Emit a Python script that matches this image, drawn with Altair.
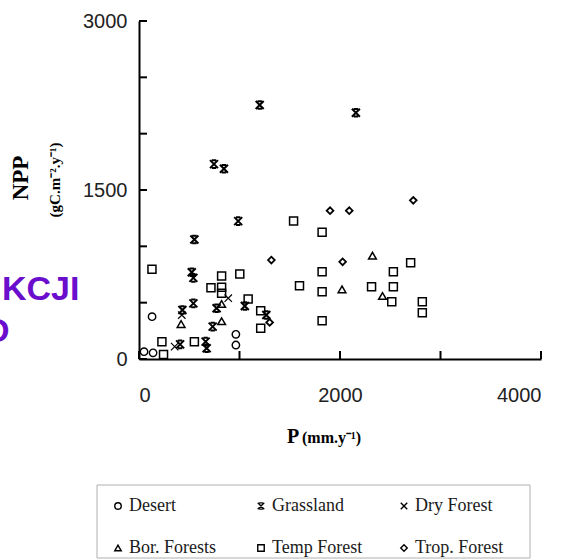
import altair as alt
import pandas as pd

# ---- data (P in mm/y, NPP in gC/m2/y) ----
desert_p = [130, 50, 140, 964, 964]
desert_npp = [376, 65, 55, 219, 124]

grass_p = [1201, 2158, 746, 845, 987, 551, 525, 541, 541, 432, 733, 772, 1053, 1267, 409, 663, 673]
grass_npp = [2254, 2186, 1730, 1689, 1224, 1060, 770, 720, 494, 435, 287, 450, 470, 390, 130, 154, 95]

dry_p = [888, 355, 426]
dry_npp = [540, 110, 390]

bor_p = [2323, 2020, 2423, 419, 822, 822]
bor_npp = [917, 618, 559, 310, 335, 488]

temp_p = [129, 228, 244, 551, 716, 822, 822, 822, 1003, 1086, 1211, 1211, 1538, 1597,
          1822, 1822, 1822, 1822, 2314, 2531, 2531, 2515, 2703, 2819, 2819]
temp_npp = [796, 154, 41, 154, 633, 736, 636, 583, 754, 532, 429, 272, 1224, 651,
            1124, 775, 597, 340, 642, 775, 642, 509, 855, 509, 411]

trop_p = [1901, 2092, 2729, 1317, 2026, 1300]
trop_npp = [1316, 1316, 1408, 878, 863, 325]

types = ["Desert", "Grassland", "Dry Forest", "Bor. Forests", "Temp Forest", "Trop. Forest"]
y_ticks = [0, 500, 1000, 1500, 2000, 2500, 3000]
x_ticks = [0, 1000, 2000, 3000, 4000]

rows = []
for name, xs, ys in [
    ("Desert", desert_p, desert_npp),
    ("Grassland", grass_p, grass_npp),
    ("Dry Forest", dry_p, dry_npp),
    ("Bor. Forests", bor_p, bor_npp),
    ("Temp Forest", temp_p, temp_npp),
    ("Trop. Forest", trop_p, trop_npp),
]:
    rows += [{"P": x, "NPP": y, "type": name} for x, y in zip(xs, ys)]
df = pd.DataFrame(rows)

GRASS = "M-1,-1L1,1M1,-1L-1,1M-0.55,-0.95L0.55,-0.95M-0.55,0.95L0.55,0.95"
DRY = "M-1,-1L1,1M1,-1L-1,1"
shapes = ["circle", GRASS, DRY, "triangle-up", "square", "diamond"]
sizes = [55, 64, 55, 60, 64, 45]
widths = [1.4, 2.0, 1.2, 1.5, 1.5, 1.8]

W, H = 402, 338
x_scale = alt.Scale(domain=[0, 4000], nice=False)
y_scale = alt.Scale(domain=[0, 3000], nice=False)
shape_scale = alt.Scale(domain=types, range=shapes)
x_axis = alt.Axis(values=[0, 2000, 4000], title=None, labelPadding=26, ticks=False,
                  tickSize=0, format="d", labelFontSize=20, labelFont="Liberation Sans",
                  labelColor="#222")
y_axis = alt.Axis(values=[0, 1500, 3000], title=None, labelPadding=12, ticks=False,
                  tickSize=0, format="d", labelFontSize=20, labelFont="Liberation Sans",
                  labelColor="#222")

point_layers = []
for i, name in enumerate(types):
    point_layers.append(
        alt.Chart(df).transform_filter(alt.datum.type == name)
        .mark_point(filled=False, color="black", opacity=1, size=sizes[i],
                    strokeWidth=widths[i])
        .encode(
            x=alt.X("P:Q", scale=x_scale, axis=x_axis),
            y=alt.Y("NPP:Q", scale=y_scale, axis=y_axis),
            shape=alt.Shape("type:N", scale=shape_scale, legend=None),
        )
    )

yt = alt.Chart(pd.DataFrame({"NPP": y_ticks})).mark_rule(color="black", strokeWidth=2).encode(
    y=alt.Y("NPP:Q", scale=y_scale, axis=y_axis),
    x=alt.value(0), x2=alt.value(8),
)
xt = alt.Chart(pd.DataFrame({"P": x_ticks})).mark_rule(color="black", strokeWidth=2).encode(
    x=alt.X("P:Q", scale=x_scale, axis=x_axis),
    y=alt.value(H), y2=alt.value(H - 8),
)

# ---- legend drawn as a 3x2 grid below the plot ----
leg = pd.DataFrame({
    "type": types,
    "col": [i % 3 for i in range(6)],
    "row": [i // 3 for i in range(6)],
})
LX0, LDX, LY0, LDY = -21, 143, 485, 42
leg_box = alt.Chart(pd.DataFrame({"a": [0]})).mark_rect(
    fill=None, stroke="#b0b0b0", strokeWidth=1
).encode(x=alt.value(-42), x2=alt.value(391), y=alt.value(464), y2=alt.value(537))
leg_sym = alt.Chart(leg).transform_calculate(
    lx=f"{LX0} + datum.col * {LDX}", ly=f"{LY0} + datum.row * {LDY}"
).mark_point(filled=False, color="black", size=42, strokeWidth=1.4, opacity=1).encode(
    x=alt.X("lx:Q", scale=None, axis=None),
    y=alt.Y("ly:Q", scale=None, axis=None),
    shape=alt.Shape("type:N", scale=shape_scale, legend=None),
)
leg_txt = alt.Chart(leg).transform_calculate(
    lx=f"{LX0 + 11} + datum.col * {LDX}", ly=f"{LY0} + datum.row * {LDY}"
).mark_text(align="left", baseline="middle", font="Liberation Serif", fontSize=18,
            color="#1a1a1a").encode(
    x=alt.X("lx:Q", scale=None, axis=None),
    y=alt.Y("ly:Q", scale=None, axis=None),
    text="type:N",
)

def label(text, x, y, **kw):
    return alt.Chart(pd.DataFrame({"t": [text]})).mark_text(**kw).encode(
        text="t:N", x=alt.value(x), y=alt.value(y))

texts = [
    label("KCJI", -137, 279, align="left", baseline="alphabetic", font="Liberation Sans",
          fontSize=34, fontWeight="bold", color="#6a0dcc"),
    label("D", -154, 321, align="left", baseline="alphabetic", font="Liberation Sans",
          fontSize=34, fontWeight="bold", color="#6a0dcc"),
    label("NPP", -118, 157, angle=270, align="center", baseline="middle",
          font="Liberation Serif", fontSize=23, fontWeight="bold", color="black"),
    label("(gC.m⁻².y⁻¹)", -84, 159, angle=270, align="center", baseline="middle",
          font="Liberation Serif", fontSize=15, fontWeight="bold", color="black"),
    label("P", 148, 422, align="left", baseline="alphabetic",
          font="Liberation Serif", fontSize=20, fontWeight="bold", color="black"),
    label("(mm.y⁻¹)", 163, 422, align="left", baseline="alphabetic",
          font="Liberation Serif", fontSize=16, fontWeight="bold", color="black"),
]

chart = alt.layer(*point_layers, yt, xt, leg_box, leg_sym, leg_txt, *texts).properties(
    width=W, height=H,
    autosize=alt.AutoSizeParams(type="none"),
    padding={"left": 139, "top": 21, "right": 27, "bottom": 201},
).configure_view(stroke=None).configure_axis(
    domainColor="black", domainWidth=2, grid=False,
)

chart.save("out.html", embed_options={"renderer": "svg", "actions": False})
